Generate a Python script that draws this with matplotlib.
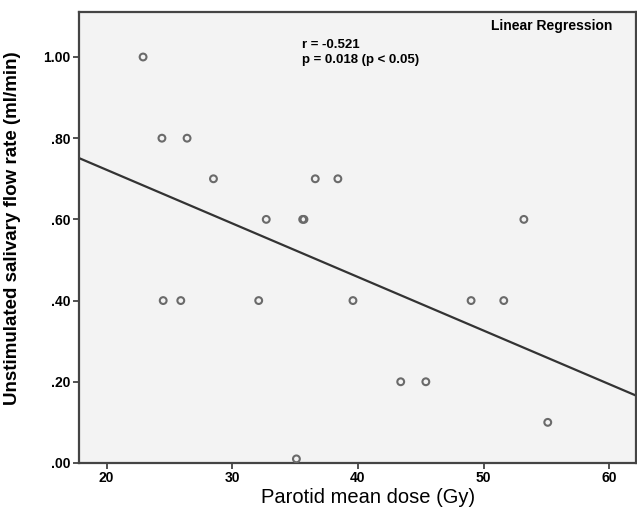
"""
    腮腺平均剂量与静息唾液流率的线性回归散点图
"""
import numpy as np
import matplotlib
matplotlib.use('Agg')
import matplotlib.pyplot as plt

plt.rcParams['font.family'] = ['Liberation Sans', 'DejaVu Sans']

# 数据：腮腺平均剂量(Gy), 静息唾液流率(ml/min)
dose = [22.9, 24.4, 26.4, 28.5, 32.7, 35.6, 35.7, 36.6, 38.4,
        24.5, 25.9, 32.1, 39.6, 49.0, 51.6, 53.2, 43.4, 45.4, 35.1, 55.1]
flow = [1.00, 0.80, 0.80, 0.70, 0.60, 0.60, 0.60, 0.70, 0.70,
        0.40, 0.40, 0.40, 0.40, 0.40, 0.40, 0.60, 0.20, 0.20, 0.01, 0.10]

# 回归线
intercept = 0.986
slope = -0.0132

x_ticks = [20, 30, 40, 50, 60]
y_ticks = [0.0, 0.2, 0.4, 0.6, 0.8, 1.0]
y_ticklabels = ['.00', '.20', '.40', '.60', '.80', '1.00']

fig = plt.figure(figsize=(6.37, 5.19), dpi=100)
ax = fig.add_axes([0.124, 0.108, 0.874, 0.869])
ax.set_facecolor('#f3f3f3')

ax.scatter(dose, flow, s=24, facecolors='none', edgecolors='#6a6a6a', linewidths=1.5, zorder=3)

xlim = (17.8, 62.1)
xs = np.array(xlim)
ax.plot(xs, intercept + slope * xs, color='#333333', lw=1.6, zorder=2)

ax.set_xlim(*xlim)
ax.set_ylim(0, 1.111)
ax.set_xticks(x_ticks)
ax.set_xticklabels([str(t) for t in x_ticks], fontweight='bold', fontsize=10)
ax.set_yticks(y_ticks)
ax.set_yticklabels(y_ticklabels, fontweight='bold', fontsize=10)
ax.tick_params(length=4, width=1.2, color='#333333', pad=2)

for s in ax.spines.values():
    s.set_color('#444444')
    s.set_linewidth(1.6)

ax.set_xlabel('Parotid mean dose (Gy)', fontsize=14.5, labelpad=6)
ax.xaxis.set_label_coords(0.52, -0.055, transform=ax.transAxes)
ax.xaxis.label.set_va('top')
ax.set_ylabel('Unstimulated salivary flow rate (ml/min)', fontsize=13.5, fontweight='bold', labelpad=7)
ax.yaxis.set_label_coords(-0.105, 0.52, transform=ax.transAxes)

ax.text(0.958, 0.985, 'Linear Regression', transform=ax.transAxes, ha='right', va='top',
        fontsize=10, fontweight='bold')
ax.text(0.40, 0.94, 'r = -0.521\np = 0.018 (p < 0.05)', transform=ax.transAxes, ha='left', va='top',
        fontsize=9.5, fontweight='bold', linespacing=1.3)

fig.savefig('out.png', dpi=100)
